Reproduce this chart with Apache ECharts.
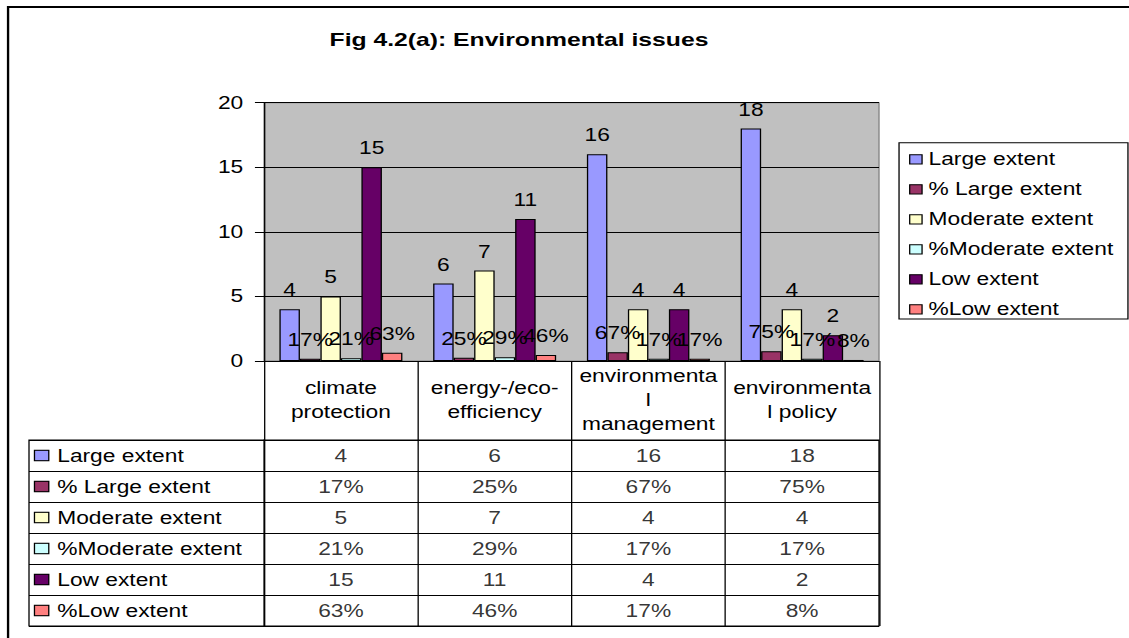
<!DOCTYPE html>
<html>
<head>
<meta charset="utf-8">
<title>Fig 4.2(a): Environmental issues</title>
<script src="https://cdn.jsdelivr.net/npm/echarts@6/dist/echarts.min.js"></script>
<style>
  html, body { margin: 0; padding: 0; background: #fff; overflow: hidden; }
  /* The chart is laid out on a narrower canvas and stretched sideways to the page width,
     which gives the wide lettering of the original spreadsheet figure. */
  #chart { width: 868px; height: 638px; transform: scaleX(1.30069); transform-origin: 0 0; }
</style>
</head>
<body>
<div id="chart"></div>
<script>
// ---- data ----
const categories = ['climate\nprotection', 'energy-/eco-\nefficiency', 'environmenta\nl\nmanagement', 'environmenta\nl policy'];
const seriesNames = ['Large extent', '% Large extent', 'Moderate extent', '%Moderate extent', 'Low extent', '%Low extent'];
const largeExtent = [4, 6, 16, 18];
const largeExtentPct = [0.17, 0.25, 0.67, 0.75];
const moderateExtent = [5, 7, 4, 4];
const moderateExtentPct = [0.21, 0.29, 0.17, 0.17];
const lowExtent = [15, 11, 4, 2];
const lowExtentPct = [0.63, 0.46, 0.17, 0.08];
const yTicks = [0, 5, 10, 15, 20];

// ---- styling ----
const colors = ['#9999FF', '#993366', '#FFFFCC', '#CCFFFF', '#660066', '#FF8080'];
const FONT = "'Liberation Sans', Arial, sans-serif";
const FS = 17.5;

const seriesValues = [largeExtent, largeExtentPct, moderateExtent, moderateExtentPct, lowExtent, lowExtentPct];
const isPct = [false, true, false, true, false, true];
const fmt = (v, pct) => pct ? Math.round(v * 100) + '%' : String(v);

// bars of the column chart
const barSeries = seriesValues.map((vals, i) => ({
  name: seriesNames[i],
  type: 'bar',
  xAxisIndex: 0,
  yAxisIndex: 0,
  data: vals,
  barGap: '0%',
  barCategoryGap: '20%',
  itemStyle: { color: colors[i], borderColor: '#000', borderWidth: 1 },
  label: {
    show: true,
    position: 'top',
    distance: 10,
    color: '#000',
    fontFamily: FONT,
    fontSize: FS,
    formatter: p => fmt(p.value, isPct[i])
  },
  emphasis: { disabled: true }
}));

// text of the data table cells: [column, row, text]
const cellData = [];
seriesValues.forEach((vals, r) => {
  vals.forEach((v, c) => cellData.push([c, r, fmt(v, isPct[r])]));
});

const rowRich = { t: { fontFamily: FONT, fontSize: FS, color: '#000', padding: [0, 0, 0, 7] } };
colors.forEach((c, i) => {
  rowRich['k' + i] = { width: 10, height: 9.3, backgroundColor: c, borderColor: '#000', borderWidth: 1 };
});

const chart = echarts.init(document.getElementById('chart'), null, { renderer: 'svg' });

chart.setOption({
  animation: false,
  backgroundColor: '#fff',
  textStyle: { fontFamily: FONT },
  graphic: [
    {
      type: 'rect', z: -10, silent: true,
      shape: { x: 6.2, y: 7, width: 2000, height: 2000 },
      style: { fill: 'none', stroke: '#000', lineWidth: 1.8 }
    },
    {
      type: 'rect', z: 0, silent: true,
      shape: { x: 691.2, y: 142.7, width: 176, height: 176.3 },
      style: { fill: '#fff', stroke: '#000', lineWidth: 1 }
    },
    {
      type: 'text', silent: true,
      x: 399, y: 40,
      style: {
        text: 'Fig 4.2(a): Environmental issues',
        fontFamily: FONT, fontWeight: 'bold', fontSize: 19,
        fill: '#000', align: 'center', verticalAlign: 'middle'
      }
    }
  ],
  legend: {
    data: seriesNames,
    orient: 'vertical',
    left: 698.9,
    top: 150.3,
    padding: 0,
    itemGap: 12,
    itemWidth: 9.5,
    itemHeight: 9.3,
    icon: 'rect',
    selectedMode: false,
    itemStyle: { borderColor: '#000', borderWidth: 1 },
    textStyle: { color: '#000', fontFamily: FONT, fontSize: FS }
  },
  grid: [
    { // column chart plot area
      left: 203, top: 102.7, width: 472.8, height: 258.3,
      show: true, backgroundColor: '#C0C0C0', borderColor: '#808080', borderWidth: 1,
      containLabel: false, outerBoundsMode: 'none'
    },
    { // data table body
      left: 203, top: 440, width: 472.8, height: 186,
      show: true, backgroundColor: '#fff', borderColor: '#000', borderWidth: 1,
      containLabel: false, outerBoundsMode: 'none'
    },
    { // data table row headers
      left: 22.3, top: 440, width: 180.7, height: 186,
      show: true, backgroundColor: '#fff', borderColor: '#000', borderWidth: 1,
      containLabel: false, outerBoundsMode: 'none'
    }
  ],
  xAxis: [
    {
      gridIndex: 0,
      type: 'category',
      data: categories,
      axisLine: { show: true, lineStyle: { color: '#000', width: 1 } },
      axisTick: { show: true, interval: 0, length: 79, lineStyle: { color: '#000', width: 1 } },
      axisLabel: {
        interval: 0, margin: 39, verticalAlign: 'middle', lineHeight: 24,
        color: '#000', fontFamily: FONT, fontSize: FS
      },
      splitLine: { show: false }
    },
    {
      gridIndex: 1,
      type: 'category',
      data: categories,
      axisLine: { show: false },
      axisTick: { show: false },
      axisLabel: { show: false },
      splitLine: { show: true, interval: 0, lineStyle: { color: '#000', width: 1 } }
    },
    {
      gridIndex: 2,
      type: 'category',
      data: [''],
      show: false
    }
  ],
  yAxis: [
    {
      gridIndex: 0,
      type: 'value',
      min: yTicks[0],
      max: yTicks[yTicks.length - 1],
      interval: yTicks[1] - yTicks[0],
      axisLine: { show: true, lineStyle: { color: '#000', width: 1 } },
      axisTick: { show: true, length: 7, lineStyle: { color: '#000', width: 1 } },
      axisLabel: { margin: 16, color: '#000', fontFamily: FONT, fontSize: FS },
      splitLine: { show: true, lineStyle: { color: '#000', width: 1 } }
    },
    {
      gridIndex: 1,
      type: 'category',
      data: seriesNames,
      inverse: true,
      axisLine: { show: false },
      axisTick: { show: false },
      axisLabel: { show: false },
      splitLine: { show: true, interval: 0, lineStyle: { color: '#000', width: 1 } }
    },
    {
      gridIndex: 2,
      type: 'category',
      data: seriesNames,
      inverse: true,
      axisLine: { show: false },
      axisTick: { show: false },
      axisLabel: {
        inside: true, margin: 4.7, interval: 0, align: 'left',
        formatter: (v, i) => '{k' + i + '|}{t|' + v + '}',
        rich: rowRich
      },
      splitLine: { show: true, interval: 0, lineStyle: { color: '#000', width: 1 } }
    }
  ],
  series: barSeries.concat([
    {
      name: 'table',
      type: 'scatter',
      xAxisIndex: 1,
      yAxisIndex: 1,
      data: cellData,
      symbolSize: 1,
      itemStyle: { color: 'rgba(0,0,0,0)' },
      label: {
        show: true,
        position: 'inside',
        color: '#000',
        fontFamily: FONT,
        fontSize: FS,
        formatter: p => p.data[2]
      },
      emphasis: { disabled: true },
      silent: true
    }
  ])
});
</script>
</body>
</html>
